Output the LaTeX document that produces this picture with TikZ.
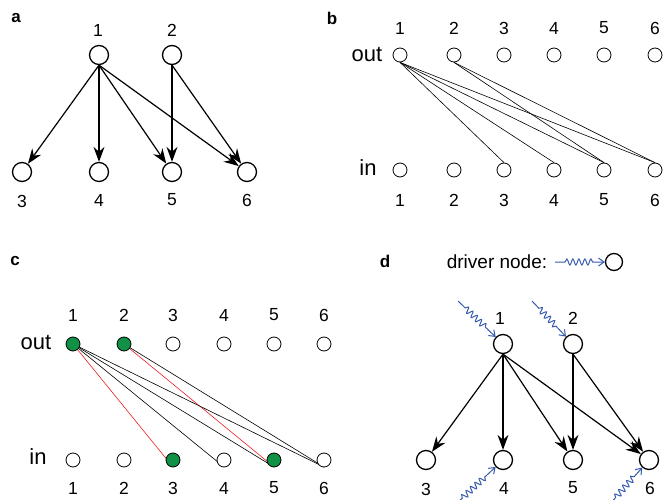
\documentclass[tikz,border=0pt]{standalone}
\usepackage{fontspec}
\setmainfont{Liberation Sans}
\usetikzlibrary{arrows.meta,decorations.pathmorphing}
\definecolor{gfill}{RGB}{16,145,70}
\definecolor{redl}{RGB}{235,30,35}
\definecolor{drv}{RGB}{55,90,175}
\tikzset{
  big/.style={circle,draw,line width=1.3pt,minimum size=19pt,inner sep=0pt},
  small/.style={circle,draw,line width=0.8pt,minimum size=14pt,inner sep=0pt,fill=white},
  gsmall/.style={small,fill=gfill},
  num/.style={font=\fontsize{17.5}{20}\selectfont,inner sep=0pt},
  side/.style={font=\fontsize{22}{26}\selectfont,inner sep=0pt},
  panel/.style={font=\fontsize{17}{20}\selectfont\bfseries,inner sep=0pt},
  arr/.style={line width=1.2pt,-{Stealth[length=15pt,width=11pt,inset=5pt]}},
  thin/.style={line width=0.6pt},
  redthin/.style={line width=0.6pt,draw=redl},
  driver/.style={draw=drv,line width=1pt,-{Straight Barb[length=5.5pt,width=8pt]},
    decoration={snake,segment length=6pt,amplitude=3pt,pre length=10pt,post length=12pt},decorate}
}
\begin{document}
\begin{tikzpicture}[x=1pt,y=-1pt]
\useasboundingbox (0,0) rectangle (664,500);
% ---------- panel a ----------
\node[panel] (la) at (16,18) {a};
\node[big] (a1) at (99,55) {};
\node[big] (a2) at (172,55) {};
\node[big] (a3) at (22,172) {};
\node[big] (a4) at (99,172) {};
\node[big] (a5) at (172,172) {};
\node[big] (a6) at (247,172) {};
\node[num] (ta1) at (98,30) {1};
\node[num] (ta2) at (172,30) {2};
\node[num] (ta3) at (22,201) {3};
\node[num] (ta4) at (99,200) {4};
\node[num] (ta5) at (172,200) {5};
\node[num] (ta6) at (247,200) {6};
\draw[arr] (a1.south) -- (a3);
\draw[arr] (a1.south) -- (a4);
\draw[arr] (a1.south) -- (a5);
\draw[arr] (a1.south) -- (a6);
\draw[arr] (a2.south) -- (a5);
\draw[arr] (a2.south) -- (a6);
% ---------- panel b ----------
\node[panel] (lb) at (332,18) {b};
\node[side] (bout) at (367,54) {out};
\node[side] (bin) at (368,168) {in};
\foreach \i/\x in {1/400,2/454,3/504,4/554,5/604,6/655}{
  \node[num] (tb\i) at (\x,28) {\i};
  \node[small] (bo\i) at (\x,55) {};
  \node[small] (bi\i) at (\x,170) {};
  \node[num] (ub\i) at (\x,200) {\i};
}
\draw[thin] (bo1.south) -- (bi3.north);
\draw[thin] (bo1.south) -- (bi4.north);
\draw[thin] (bo1.south) -- (bi5.north);
\draw[thin] (bo1.south) -- (bi6.north);
\draw[thin] (bo2.south) -- (bi5.north);
\draw[thin] (bo2.south) -- (bi6.north);
% ---------- panel c ----------
\node[panel] (lc) at (15,261) {c};
\node[side] (cout) at (36,342) {out};
\node[side] (cin) at (38,457) {in};
\foreach \i/\x in {1/73,2/124,3/173,4/224,5/274,6/324}{
  \node[num] (tc\i) at (\x,315) {\i};
  \node[num] (uc\i) at (\x,488) {\i};
  \coordinate (co\i) at (\x,344);
  \coordinate (ci\i) at (\x,460);
}
\draw[redthin] (co1) -- ([yshift=-7pt]ci3);
\draw[redthin] (co2) -- ([yshift=-7pt]ci5);
\draw[thin] (co1) -- ([yshift=-7pt]ci4);
\draw[thin] (co1) -- ([yshift=-7pt]ci5);
\draw[thin] (co1) -- ([yshift=-7pt]ci6);
\draw[thin] (co2) -- ([yshift=-7pt]ci6);
\node[gsmall] (cO1) at (co1) {};
\node[gsmall] (cO2) at (co2) {};
\node[small] (cO3) at (co3) {};
\node[small] (cO4) at (co4) {};
\node[small] (cO5) at (co5) {};
\node[small] (cO6) at (co6) {};
\node[small] (cI1) at (ci1) {};
\node[small] (cI2) at (ci2) {};
\node[gsmall] (cI3) at (ci3) {};
\node[small] (cI4) at (ci4) {};
\node[gsmall] (cI5) at (ci5) {};
\node[small] (cI6) at (ci6) {};
% ---------- panel d ----------
\node[panel] (ld) at (385,261) {d};
\node[inner sep=0pt,font=\fontsize{19}{22}\selectfont] (dtxt) at (497,262) {driver node:};
\node[big,minimum size=17pt] (dleg) at (614,262) {};
\coordinate (dlegs) at (555,262);
\draw[driver] (dlegs) -- (dleg);
\node[big] (d1) at (503,344) {};
\node[big] (d2) at (573,344) {};
\node[big] (d3) at (426,460) {};
\node[big] (d4) at (503,460) {};
\node[big] (d5) at (573,460) {};
\node[big] (d6) at (649,460) {};
\node[num] (td1) at (500,318) {1};
\node[num] (td2) at (573,318) {2};
\node[num] (td3) at (426,489) {3};
\node[num] (td4) at (504,488) {4};
\node[num] (td5) at (573,488) {5};
\node[num] (td6) at (650,488) {6};
\draw[arr] (d1.south) -- (d3);
\draw[arr] (d1.south) -- (d4);
\draw[arr] (d1.south) -- (d5);
\draw[arr] (d1.south) -- (d6);
\draw[arr] (d2.south) -- (d5);
\draw[arr] (d2.south) -- (d6);
\coordinate (s1) at (458,301);
\coordinate (s2) at (532,301);
\coordinate (s4) at (455,505);
\coordinate (s6) at (609,505);
\draw[driver] (s1) -- (d1);
\draw[driver] (s2) -- (d2);
\draw[driver] (s4) -- (d4);
\draw[driver] (s6) -- (d6);
\end{tikzpicture}
\end{document}
